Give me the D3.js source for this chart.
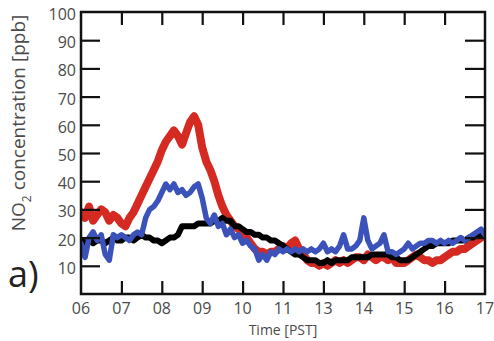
<!DOCTYPE html>
<html><head><meta charset="utf-8">
<script src="https://cdn.jsdelivr.net/npm/d3@7"></script>
<style>html,body{margin:0;padding:0;background:#fff;}svg{display:block;}</style>
</head><body>
<svg id="chart" width="494" height="341"></svg>
<script>
// time positions: index 0..10 along the axis, step 0.1
const xTickLabels = ["06","07","08","09","10","11","13","14","15","16","17"];
const yTickValues = [10,20,30,40,50,60,70,80,90,100];
const red = [29,27,31,26,28,30,29,26,28,27,25,24,27,29,32,35,38,41,44,47,
  51,54,56,58,56,53,57,61,63,60,52,47,44,40,35,31,28,26,24,23,
  22,20,18,16,15,15,14,15,15,16,17,16,18,19,16,14,12,11,11,10,
  11,10,11,12,11,12,11,12,13,13,12,14,13,12,13,13,12,13,11,11,
  11,12,13,14,13,12,12,11,12,12,13,14,15,15,16,16,17,18,19,20,21];
const blue = [18,13,20,22,19,21,14,12,21,20,21,20,19,21,22,21,27,30,31,33,
  36,39,37,39,36,37,35,36,38,39,34,27,25,28,24,25,21,23,20,21,
  18,19,17,16,12,14,12,15,14,16,15,16,15,16,15,16,15,16,15,16,
  18,15,16,15,17,21,16,16,17,19,27,19,16,17,18,21,15,15,14,15,
  16,18,16,17,18,18,19,19,18,19,18,19,18,19,20,19,20,21,22,23,21];
const black = [19,18,19,18,19,19,18,19,20,19,19,20,20,19,20,21,20,20,19,19,
  18,19,20,20,21,24,24,24,24,25,25,25,25,26,26,27,26,26,24,24,
  23,22,22,21,21,20,20,19,19,18,17,16,15,14,14,13,12,12,12,11,
  11,12,11,12,12,12,12,13,13,13,13,13,14,14,14,14,14,13,13,12,
  12,12,13,14,15,16,17,17,18,18,18,18,19,19,19,19,20,20,21,21,21];
const seriesList = [
  {name:"red", values:red, color:"#d42a22", width:8},
  {name:"black", values:black, color:"#000000", width:6},
  {name:"blue", values:blue, color:"#3a52ba", width:5.5}
];

const svg = d3.select("#chart");
const L=81, R=485, T=12, B=294;
const x = d3.scaleLinear().domain([0,10]).range([L,R]);
const y = d3.scaleLinear().domain([0,100]).range([B,T]);
const font = "'Open Sans', 'Noto Sans', sans-serif";
const txt = "#4a4a4a";

const plot = svg.append("g");
plot.append("defs").append("clipPath").attr("id","clip")
  .append("rect").attr("x",L).attr("y",T).attr("width",R-L).attr("height",B-T);
const line = d3.line().x((d,i)=>x(i*0.1)).y(d=>y(d)).curve(d3.curveLinear);
const lines = plot.append("g").attr("clip-path","url(#clip)");
seriesList.forEach(s=>{
  lines.append("path").datum(s.values).attr("d",line)
    .attr("fill","none").attr("stroke",s.color).attr("stroke-width",s.width)
    .attr("stroke-linejoin","round").attr("stroke-linecap","round");
});

// axes with inward ticks
const tickStroke = "#111";
const xt = d3.range(1,10);
const axB = svg.append("g").attr("transform",`translate(0,${B})`)
  .call(d3.axisBottom(x).tickValues(xt).tickSize(-13).tickFormat(""));
const axT = svg.append("g").attr("transform",`translate(0,${T})`)
  .call(d3.axisTop(x).tickValues(xt).tickSize(-13).tickFormat(""));
const yt = yTickValues.filter(v=>v<100);
const axL = svg.append("g").attr("transform",`translate(${L},0)`)
  .call(d3.axisLeft(y).tickValues(yt).tickSize(-19).tickFormat(""));
const axR = svg.append("g").attr("transform",`translate(${R},0)`)
  .call(d3.axisRight(y).tickValues(yt).tickSize(-20).tickFormat(""));
[axB,axT,axL,axR].forEach(a=>{
  a.select(".domain").remove();
  a.selectAll(".tick line").attr("stroke",tickStroke).attr("stroke-width",2.2);
});
svg.append("rect").attr("x",L).attr("y",T).attr("width",R-L).attr("height",B-T)
  .attr("fill","none").attr("stroke","#111").attr("stroke-width",2.5);

// tick labels
svg.append("g").selectAll("text").data(xTickLabels).join("text")
  .attr("x",(d,i)=>x(i)).attr("y",B+20).attr("text-anchor","middle")
  .attr("font-family",font).attr("font-size",16).attr("fill",txt).text(d=>d);
svg.append("g").selectAll("text").data(yTickValues).join("text")
  .attr("x",L-5).attr("y",d=>y(d)+8).attr("text-anchor","end")
  .attr("font-family",font).attr("font-size",16).attr("fill",txt).text(d=>d);

// axis titles
svg.append("text").attr("x",283).attr("y",335).attr("text-anchor","middle")
  .attr("font-family",font).attr("font-size",14).attr("fill",txt).text("Time [PST]");
const yl = svg.append("text").attr("transform","translate(25,123) rotate(-90)")
  .attr("text-anchor","middle").attr("font-family",font).attr("font-size",19).attr("fill",txt);
yl.append("tspan").text("NO");
yl.append("tspan").attr("dy",6).attr("font-size",12).text("2");
yl.append("tspan").attr("dy",-6).text(" concentration [ppb]");
svg.append("text").attr("x",8).attr("y",287).attr("font-family",font)
  .attr("font-size",36).attr("fill","#222").text("a)");
</script>
</body></html>
